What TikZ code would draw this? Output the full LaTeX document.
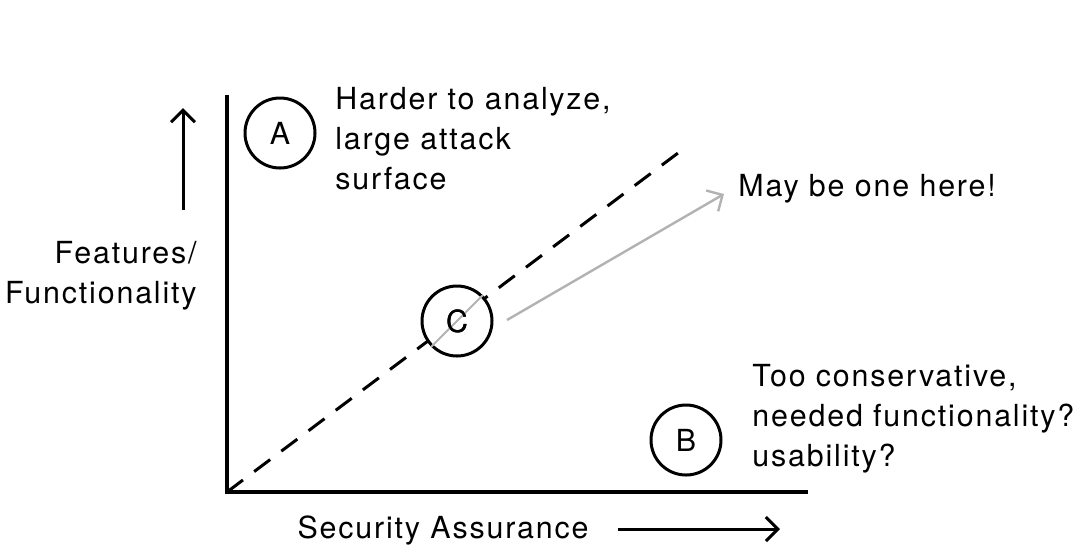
\documentclass[tikz,border=0pt]{standalone}
\usepackage{fontspec}
\setmainfont{TeX Gyre Heros}[LetterSpace=6]
\usetikzlibrary{arrows.meta,positioning}

\begin{document}
\begin{tikzpicture}[
    x=0.5pt, y=-0.5pt,
    font=\fontsize{15.2}{20}\selectfont,
    axis/.style={line width=1.6pt},
    marker/.style={draw, circle, line width=1.5pt, minimum size=35pt, inner sep=0pt},
    label/.style={align=left, anchor=west, inner sep=0pt},
    dir/.style={-{Straight Barb[length=6pt, width=12pt]}, line width=1.5pt}
]
\useasboundingbox (0,0) rectangle (1082,554);

% axes
\coordinate (origin) at (227,492);
\coordinate (ytop) at (227,95);
\coordinate (xend) at (808,492);
\draw[axis] (ytop) -- (origin) -- (xend);

% balance line
\coordinate (dashend) at (682,150);
\draw[dashed, dash pattern=on 10pt off 7pt, line width=1.5pt] (origin) -- (dashend);

% regions
\node[marker] (a) at (280,133) {A};
\node[marker] (b) at (686,440) {B};
\node[marker, fill=white] (c) at (457,321) {C};
\draw[gray!60, line width=1pt] (c.south west) -- (c.north east);
\node at (c) {C};

% captions
\node[label] (hard) at (335,139) {Harder to analyze,\\large attack\\surface};
\node[label] (here) at (738,189) {May be one here!};
\node[label] (cons) at (752,419) {Too conservative,\\needed functionality?\\usability?};
\node[align=right, anchor=east, inner sep=0pt] (feat) at (197,276) {Features/\\Functionality};
\node[inner sep=0pt] (sec) at (443,530) {Security Assurance};

% direction arrows
\coordinate (upfrom) at (183,210);
\coordinate (upto) at (183,108);
\draw[dir] (upfrom) -- (upto);
\coordinate (rightfrom) at (618,529);
\coordinate (rightto) at (780,529);
\draw[dir] (rightfrom) -- (rightto);
\coordinate (graystart) at (507,320);
\coordinate (grayend) at (724,194);
\draw[dir, gray!60, line width=1.2pt] (graystart) -- (grayend);
\end{tikzpicture}
\end{document}
